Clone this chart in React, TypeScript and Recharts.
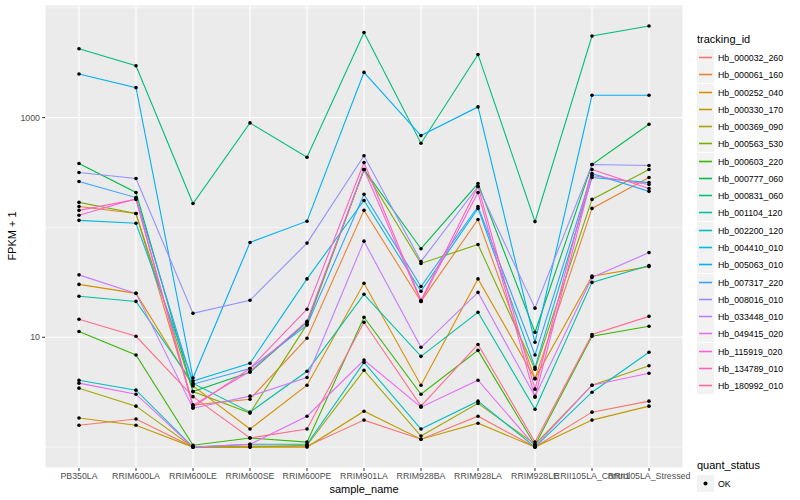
import { CartesianGrid, Line, LineChart, ReferenceLine, XAxis, YAxis } from 'recharts';

const samples = [
  'PB350LA',
  'RRIM600LA',
  'RRIM600LE',
  'RRIM600SE',
  'RRIM600PE',
  'RRIM901LA',
  'RRIM928BA',
  'RRIM928LA',
  'RRIM928LE',
  'RRII105LA_Control',
  'RRII105LA_Stressed',
];

// FPKM + 1 per sample, in the order of `samples`
const hb000032_260 = [1.58, 1.8, 1.0, 1.02, 1.02, 1.76, 1.18, 1.91, 1.0, 2.08, 2.62];
const hb000061_160 = [155, 134, 2.41, 2.73, 9.8, 143, 21.2, 118, 4.2, 149, 285];
const hb000252_040 = [30.3, 25.1, 3.6, 1.46, 3.66, 31, 3.66, 34, 4.2, 36, 44];
const hb000330_170 = [1.84, 1.58, 1.0, 1.0, 1.0, 2.12, 1.18, 1.65, 1.0, 1.76, 2.36];
const hb000369_090 = [3.44, 2.36, 1.0, 1.0, 1.04, 5.0, 1.26, 2.5, 1.06, 3.66, 5.5];
const hb000563_530 = [169, 134, 3.2, 2.04, 13.1, 337, 47, 70, 5.1, 180, 337];
const hb000603_220 = [11.3, 6.9, 1.04, 1.21, 1.11, 15.2, 3.03, 7.6, 1.04, 10.2, 12.6];
const hb000777_060 = [382, 208, 3.2, 4.8, 13.7, 337, 64, 251, 11.1, 374, 869];
const hb000831_060 = [4238, 2969, 165, 895, 435, 5957, 584, 3760, 113, 5532, 6823];
const hb001104_120 = [23.6, 21.2, 3.8, 2.08, 4.9, 24.6, 6.7, 16.9, 2.21, 31.6, 45];
const hb002200_120 = [4.06, 3.3, 1.0, 1.06, 1.06, 5.9, 1.46, 2.62, 1.0, 3.16, 7.3];
const hb004410_010 = [116, 109, 4.0, 5.8, 34, 176, 26.2, 149, 5.3, 285, 256];
const hb005063_010 = [2497, 1874, 4.25, 73, 114, 2580, 686, 1251, 9.0, 1596, 1596];
const hb007317_220 = [262, 187, 3.74, 5.2, 12.9, 200, 29, 155, 6.9, 310, 213];
const hb008016_010 = [316, 279, 16.5, 21.7, 72, 449, 49, 236, 18.4, 374, 366];
const hb033448_010 = [37, 25.1, 2.26, 2.91, 4.3, 75, 8.1, 25.6, 2.9, 35, 59];
const hb049415_020 = [3.82, 3.03, 1.0, 1.06, 1.91, 6.2, 2.31, 4.06, 1.02, 3.66, 4.7];
const hb115919_020 = [129, 183, 2.41, 4.9, 14, 337, 21.2, 208, 2.85, 297, 246];
const hb134789_010 = [143, 180, 2.31, 5.2, 18, 390, 21.7, 236, 3.37, 337, 226];
const hb180992_010 = [14.6, 10.2, 2.88, 1.21, 1.46, 13.7, 2.36, 8.6, 1.11, 10.6, 15.5];

const series = [
  { id: 'Hb_000032_260', values: hb000032_260, color: '#F8766D' },
  { id: 'Hb_000061_160', values: hb000061_160, color: '#EA8331' },
  { id: 'Hb_000252_040', values: hb000252_040, color: '#D89000' },
  { id: 'Hb_000330_170', values: hb000330_170, color: '#C09B00' },
  { id: 'Hb_000369_090', values: hb000369_090, color: '#A3A500' },
  { id: 'Hb_000563_530', values: hb000563_530, color: '#7CAE00' },
  { id: 'Hb_000603_220', values: hb000603_220, color: '#39B600' },
  { id: 'Hb_000777_060', values: hb000777_060, color: '#00BB4E' },
  { id: 'Hb_000831_060', values: hb000831_060, color: '#00BF7D' },
  { id: 'Hb_001104_120', values: hb001104_120, color: '#00C1A3' },
  { id: 'Hb_002200_120', values: hb002200_120, color: '#00BFC4' },
  { id: 'Hb_004410_010', values: hb004410_010, color: '#00BAE0' },
  { id: 'Hb_005063_010', values: hb005063_010, color: '#00B0F6' },
  { id: 'Hb_007317_220', values: hb007317_220, color: '#35A2FF' },
  { id: 'Hb_008016_010', values: hb008016_010, color: '#9590FF' },
  { id: 'Hb_033448_010', values: hb033448_010, color: '#C77CFF' },
  { id: 'Hb_049415_020', values: hb049415_020, color: '#E76BF3' },
  { id: 'Hb_115919_020', values: hb115919_020, color: '#FA62DB' },
  { id: 'Hb_134789_010', values: hb134789_010, color: '#FF62BC' },
  { id: 'Hb_180992_010', values: hb180992_010, color: '#FF6C91' },
];

const yTicks = [10, 1000];
const yMinor = [1, 100, 10000];

const rows = samples.map((sample, i) => {
  const row: Record<string, string | number> = { sample };
  series.forEach((s) => {
    row[s.id] = s.values[i];
  });
  return row;
});

const font = '"Liberation Sans", Arial, Helvetica, sans-serif';

function Legend() {
  return (
    <div style={{ position: 'absolute', left: 697, top: 0, fontFamily: font }}>
      <div style={{ position: 'absolute', top: 33, left: 0, fontSize: 11, whiteSpace: 'nowrap' }}>tracking_id</div>
      {series.map((s, i) => (
        <div
          key={s.id}
          style={{ position: 'absolute', top: Math.round(49 + i * 17.27), left: 0, height: 17, display: 'flex', alignItems: 'center' }}
        >
          <svg width={17} height={17} style={{ display: 'block' }}>
            <rect x={0} y={0} width={17} height={17} fill="#F2F2F2" />
            <line x1={2} x2={15} y1={8.5} y2={8.5} stroke={s.color} strokeWidth={1.6} />
          </svg>
          <span style={{ marginLeft: 4, fontSize: 8.8, whiteSpace: 'nowrap' }}>{s.id}</span>
        </div>
      ))}
      <div style={{ position: 'absolute', top: 459, left: 0, fontSize: 11, whiteSpace: 'nowrap' }}>quant_status</div>
      <div style={{ position: 'absolute', top: 475, left: 0, height: 17, display: 'flex', alignItems: 'center' }}>
        <svg width={17} height={17} style={{ display: 'block' }}>
          <rect x={0} y={0} width={17} height={17} fill="#F2F2F2" />
          <circle cx={8.5} cy={8.5} r={2} fill="#000000" />
        </svg>
        <span style={{ marginLeft: 4, fontSize: 8.8 }}>OK</span>
      </div>
    </div>
  );
}

export default function App() {
  return (
    <div style={{ position: 'absolute', left: 0, top: 0, width: 800, height: 500, background: '#fff', fontFamily: font }}>
      <LineChart width={800} height={500} data={rows} margin={{ top: 5, right: 117, bottom: 0, left: 0 }}>
        <CartesianGrid fill="#EBEBEB" stroke="#FFFFFF" strokeWidth={1.1} strokeDasharray="" />
        {yMinor.map((v) => (
          <ReferenceLine key={v} y={v} stroke="#FFFFFF" strokeWidth={0.55} />
        ))}
        <XAxis
          dataKey="sample"
          interval={0}
          padding={{ left: 34, right: 34 }}
          height={32}
          axisLine={false}
          tickSize={3}
          tickLine={{ stroke: '#333333' }}
          tick={{ fill: '#4D4D4D', fontSize: 8.8, fontFamily: font }}
        />
        <YAxis
          scale="log"
          type="number"
          domain={[0.645, 10600]}
          allowDataOverflow
          ticks={yTicks}
          width={45}
          axisLine={false}
          tickSize={3}
          tickLine={{ stroke: '#333333' }}
          tick={{ fill: '#4D4D4D', fontSize: 8.8, fontFamily: font }}
        />
        {series.map((s) => (
          <Line
            key={s.id}
            dataKey={s.id}
            stroke={s.color}
            strokeWidth={1.1}
            dot={false}
            activeDot={false}
            isAnimationActive={false}
          />
        ))}
        {series.map((s) => (
          <Line
            key={s.id + '_pt'}
            dataKey={s.id}
            stroke="none"
            dot={{ r: 1.8, fill: '#000000', stroke: 'none' }}
            activeDot={false}
            isAnimationActive={false}
          />
        ))}
      </LineChart>
      <div
        style={{
          position: 'absolute',
          left: 12,
          top: 236,
          transform: 'translate(-50%, -50%) rotate(-90deg)',
          fontSize: 11,
          whiteSpace: 'nowrap',
        }}
      >
        FPKM + 1
      </div>
      <div style={{ position: 'absolute', left: 364, top: 489, transform: 'translate(-50%, -50%)', fontSize: 11, whiteSpace: 'nowrap' }}>
        sample_name
      </div>
      <Legend />
    </div>
  );
}
